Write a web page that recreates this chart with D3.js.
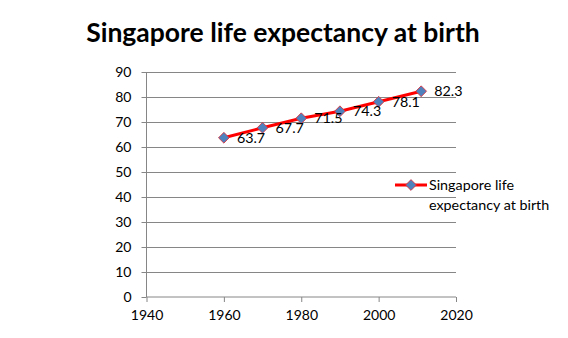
<!DOCTYPE html>
<html lang="en">
<head>
  <meta charset="utf-8">
  <title>Singapore life expectancy at birth</title>
  <script src="https://d3js.org/d3.v7.min.js"></script>
  <style>
    html, body { margin: 0; padding: 0; background: #fff; }
    svg { display: block; font-family: Lato, "Open Sans", sans-serif; }
    .grid line { stroke: #868686; stroke-width: 1px; }
    .axis text { font-size: 14px; fill: #000; font-family: Lato, "Open Sans", sans-serif; }
    .axis path, .axis line { stroke: #868686; }
  </style>
</head>
<body>
  <svg width="568" height="338"></svg>
  <script>
    // Data
    const years = [1960, 1970, 1980, 1990, 2000, 2011];
    const lifeExp = [63.7, 67.7, 71.5, 74.3, 78.1, 82.3];
    const xTicks = [1940, 1960, 1980, 2000, 2020];
    const yTicks = [0, 10, 20, 30, 40, 50, 60, 70, 80, 90];
    const seriesName = "Singapore life expectancy at birth";

    const svg = d3.select("svg");
    const plotL = 146.5, plotR = 456, plotT = 72, plotB = 297;

    const x = d3.scaleLinear().domain([1940, 2020]).range([plotL, plotR]);
    const y = d3.scaleLinear().domain([0, 90]).range([plotB, plotT]);

    // title
    svg.append("text")
      .attr("x", 283).attr("y", 42)
      .attr("text-anchor", "middle")
      .style("font-size", "26.5px").style("font-weight", "bold")
      .text(seriesName);

    // horizontal gridlines
    svg.append("g").attr("class", "grid")
      .selectAll("line")
      .data(yTicks.filter(d => d > 0))
      .join("line")
        .attr("x1", plotL).attr("x2", plotR)
        .attr("y1", d => Math.round(y(d)) + 0.5)
        .attr("y2", d => Math.round(y(d)) + 0.5);

    // y axis
    const yAxis = svg.append("g").attr("class", "axis")
      .attr("transform", `translate(${plotL},0)`)
      .call(d3.axisLeft(y).tickValues(yTicks).tickSize(5).tickPadding(10).tickFormat(d3.format("d")));
    yAxis.select(".domain").attr("d", `M0,${plotT}V${plotB}`);

    // x axis
    const xAxis = svg.append("g").attr("class", "axis")
      .attr("transform", `translate(0,${plotB})`)
      .call(d3.axisBottom(x).tickValues(xTicks).tickSize(5).tickPadding(8).tickFormat(d3.format("d")));
    xAxis.select(".domain").attr("d", `M${plotL},0H${plotR}`);

    const pts = years.map((yr, i) => ({ yr, v: lifeExp[i] }));

    // red line
    svg.append("path")
      .datum(pts)
      .attr("fill", "none")
      .attr("stroke", "#ff0000")
      .attr("stroke-width", 3)
      .attr("d", d3.line().x(d => x(d.yr)).y(d => y(d.v)));

    const marker = d3.symbol().type(d3.symbolSquare).size(58);

    svg.append("g")
      .selectAll("path")
      .data(pts)
      .join("path")
        .attr("transform", d => `translate(${x(d.yr)},${y(d.v)}) rotate(45)`)
        .attr("d", marker)
        .attr("fill", "#4f81bd")
        .attr("stroke", "#e0303a")
        .attr("stroke-width", 0.8);

    // data labels
    svg.append("g")
      .selectAll("text")
      .data(pts)
      .join("text")
        .attr("x", d => x(d.yr) + 13)
        .attr("y", d => y(d.v) + 5)
        .style("font-size", "14.3px")
        .text(d => d.v.toFixed(1));

    // legend
    const lg = svg.append("g").attr("transform", "translate(395,185)");
    lg.append("line").attr("x1", 0).attr("x2", 32).attr("y1", 0).attr("y2", 0)
      .attr("stroke", "#ff0000").attr("stroke-width", 3);
    lg.append("path")
      .attr("transform", "translate(16,0) rotate(45)")
      .attr("d", marker)
      .attr("fill", "#4f81bd").attr("stroke", "#e0303a").attr("stroke-width", 0.8);
    const lt = lg.append("text").attr("x", 34).attr("y", 5).style("font-size", "14.3px");
    lt.append("tspan").attr("x", 34).text("Singapore life");
    lt.append("tspan").attr("x", 34).attr("dy", 20).text("expectancy at birth");
  </script>
</body>
</html>
